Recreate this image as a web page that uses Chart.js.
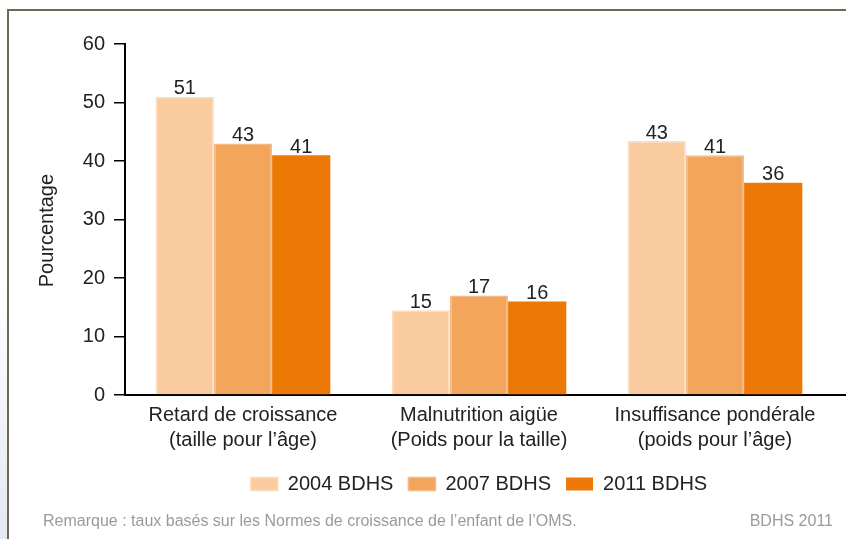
<!DOCTYPE html>
<html>
<head>
<meta charset="utf-8">
<script src="https://cdn.jsdelivr.net/npm/chart.js@4.4.1/dist/chart.umd.min.js"></script>
<style>
  html, body { margin: 0; padding: 0; background: #fff; }
  body { width: 846px; height: 539px; position: relative; overflow: hidden; font-family: "Liberation Sans", Arial, sans-serif; }
  #strip { position: absolute; left: 0; top: 280px; width: 7px; height: 259px; background: linear-gradient(to bottom, #ffffff, #e3e8f2); }
  #frame { position: absolute; left: 7px; top: 9px; width: 846px; height: 540px; border-top: 2px solid #6e6754; border-left: 2px solid #6e6754; }
  #wrap { position: absolute; left: 0; top: 0; width: 846px; height: 539px; }
  .note { position: absolute; top: 512px; font-size: 16px; color: #9a9a9a; white-space: nowrap; }
</style>
</head>
<body>
<div id="strip"></div>
<div id="frame"></div>
<div id="wrap"><canvas id="myChart"></canvas></div>
<div class="note" style="left:43px">Remarque : taux basés sur les Normes de croissance de l’enfant de l’OMS.</div>
<div class="note" style="right:13px">BDHS 2011</div>

<script>
// categories et series
const categories = [
    ['Retard de croissance', '(taille pour l’âge)'],
    ['Malnutrition aigüe', '(Poids pour la taille)'],
    ['Insuffisance pondérale', '(poids pour l’âge)']
];
const seriesNames = ['2004 BDHS', '2007 BDHS', '2011 BDHS'];
const values2004 = [51, 14.5, 43.4];
const values2007 = [43, 17, 41];
const values2011 = [41, 16, 36.3];
const yTicks = [0, 10, 20, 30, 40, 50, 60];

const fills = ['#f9cb9f', '#f3a55c', '#ec7805'];
const borders = ['#fcdcbf', '#f6b983', '#ec7805'];
const textColor = '#222222';
const fontFamily = '"Liberation Sans", Arial, sans-serif';
const fontSize = 20;

// etiquettes au-dessus des barres
const valueLabels = {
    id: 'valueLabels',
    afterDatasetsDraw(chart) {
        const ctx = chart.ctx;
        ctx.save();
        ctx.font = fontSize + 'px ' + fontFamily;
        ctx.fillStyle = textColor;
        ctx.textAlign = 'center';
        ctx.textBaseline = 'bottom';
        chart.data.datasets.forEach((ds, i) => {
            chart.getDatasetMeta(i).data.forEach((bar, j) => {
                ctx.fillText(Math.round(ds.data[j]), bar.x, bar.y + 2);
            });
        });
        ctx.restore();
    }
};

// axe des x prolonge jusqu'au bord
const axisExtend = {
    id: 'axisExtend',
    afterDraw(chart) {
        const ctx = chart.ctx;
        const a = chart.chartArea;
        ctx.save();
        ctx.strokeStyle = '#000';
        ctx.lineWidth = 2;
        ctx.beginPath();
        ctx.moveTo(a.right - 1, a.bottom);
        ctx.lineTo(chart.width, a.bottom);
        ctx.stroke();
        ctx.restore();
    }
};

const datasets = [values2004, values2007, values2011].map((vals, i) => ({
    label: seriesNames[i],
    data: vals,
    backgroundColor: fills[i],
    borderColor: borders[i],
    borderWidth: i < 2 ? 1.5 : 0,
    borderSkipped: 'bottom',
    categoryPercentage: 0.74,
    barPercentage: 1.0
}));

const ctx = document.getElementById('myChart');

new Chart(ctx, {
    type: 'bar',
    data: { labels: categories, datasets: datasets },
    plugins: [valueLabels, axisExtend],
    options: {
        responsive: true,
        maintainAspectRatio: false,
        animation: false,
        layout: { padding: { top: 44, left: 0, right: 13, bottom: 35 } },
        plugins: {
            tooltip: { enabled: false },
            legend: {
                position: 'bottom',
                fullSize: false,
                labels: {
                    boxWidth: 27,
                    boxHeight: 13,
                    padding: 15,
                    color: textColor,
                    font: { size: fontSize, family: fontFamily }
                }
            }
        },
        scales: {
            x: {
                grid: { display: false },
                border: { color: '#000', width: 2 },
                ticks: {
                    color: textColor,
                    padding: 0,
                    maxRotation: 0,
                    font: { size: fontSize, family: fontFamily, lineHeight: 1.25 }
                },
                afterFit(scale) { scale.height = 64; }
            },
            y: {
                min: 0,
                max: 60,
                afterBuildTicks(scale) { scale.ticks = yTicks.map(v => ({ value: v })); },
                grid: {
                    drawOnChartArea: false,
                    tickLength: 11,
                    color: '#000',
                    lineWidth: 1.5
                },
                border: { color: '#000', width: 2 },
                ticks: {
                    color: textColor,
                    padding: 9,
                    font: { size: fontSize, family: fontFamily }
                },
                title: {
                    display: true,
                    text: 'Pourcentage    ',
                    color: textColor,
                    padding: { top: 35 },
                    font: { size: fontSize, family: fontFamily }
                },
                afterFit(scale) { scale.width = 125; }
            }
        }
    }
});
</script>
</body>
</html>
